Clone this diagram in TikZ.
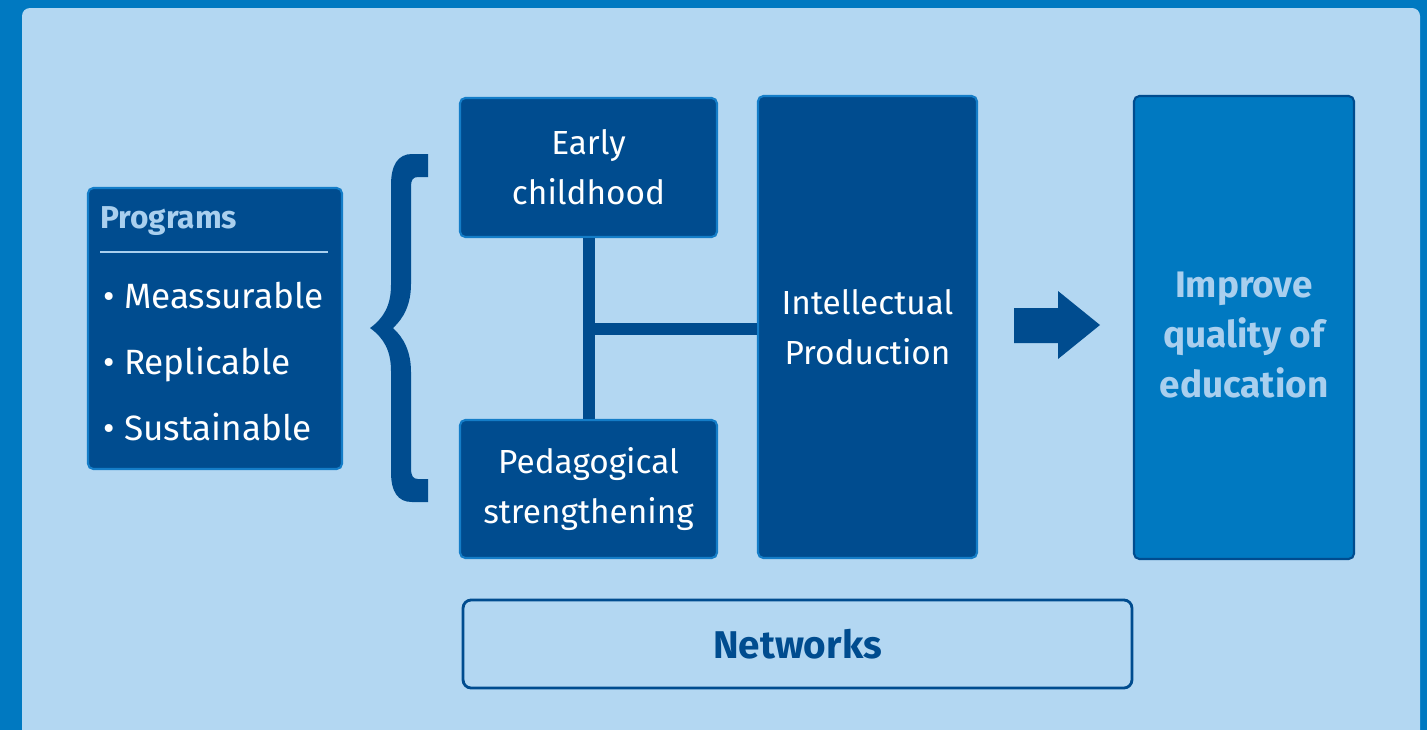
\documentclass[tikz,border=0pt]{standalone}
\usepackage{fontspec}
\setmainfont{Fira Sans}
\usepackage{xcolor}
\usepackage{tikz}

\definecolor{outerblue}{RGB}{0,121,193}
\definecolor{panelblue}{RGB}{179,215,242}
\definecolor{navy}{RGB}{0,76,143}
\definecolor{edgeblue}{RGB}{20,125,200}
\definecolor{paletext}{RGB}{169,207,238}

\begin{document}
\begin{tikzpicture}[x=0.02cm, y=-0.02cm,
    darkbox/.style={draw=edgeblue, line width=1.2pt, fill=navy, rounded corners=3pt, text=white, align=center, font=\fontsize{19}{28.5}\selectfont},
    link/.style={navy, line width=0.24cm},
    item/.style={anchor=base west, text=white, inner sep=0pt, font=\fontsize{20}{24}\selectfont}]
        \useasboundingbox (0,0) rectangle (1427,730);
        % Background and panel
        \fill[outerblue] (0,0) rectangle (1427,730);
        \fill[panelblue, rounded corners=0.16cm] (22,8) rectangle (1420,760);

        % Programs box
        \node[darkbox, minimum width=5.08cm, minimum height=5.62cm] (programs) at (215,328.5) {};
        \node[anchor=base west, inner sep=0pt, text=paletext, font=\fontsize{18}{20}\selectfont\bfseries] (title) at (100,228) {Programs};
        \draw[paletext, line width=1.2pt] (100,252) -- (328,252);
        \node[item] (meas) at (103,308) {\textbullet\ Meassurable};
        \node[item] (repl) at (103,374) {\textbullet\ Replicable};
        \node[item] (sust) at (103,440) {\textbullet\ Sustainable};

        % Brace
        \fill[navy] (428,154) -- (412,154) .. controls (398,154) and (391,165) .. (391,185) -- (391,285)
            .. controls (391,305) and (384,318) .. (370,328) .. controls (384,338) and (391,351) .. (391,371)
            -- (391,472) .. controls (391,492) and (398,502) .. (412,502) -- (428,502) -- (428,479) -- (418,479)
            .. controls (413,479) and (411,476) .. (411,468) -- (411,372) .. controls (411,352) and (404,338) .. (393,328)
            .. controls (404,318) and (411,304) .. (411,284) -- (411,186) .. controls (411,180) and (413,177) .. (418,177)
            -- (428,177) -- cycle;

        % Middle boxes
        \node[darkbox, minimum width=5.14cm, minimum height=2.78cm] (early) at (588.5,167.5) {Early\\childhood};
        \node[darkbox, minimum width=5.14cm, minimum height=2.76cm] (peda) at (588.5,489) {Pedagogical\\strengthening};
        \node[darkbox, minimum width=4.38cm, minimum height=9.24cm] (intel) at (867.5,327) {Intellectual\\Production};

        % Connectors
        \draw[link] (early.south) -- (peda.north) coordinate[midway] (mid);
        \draw[link] (mid) -- (mid -| intel.west);

        % Arrow and result
        \fill[navy] (1014,308) -- (1058,308) -- (1058,291) -- (1100,325) -- (1058,359) -- (1058,343) -- (1014,343) -- cycle;
        \node[darkbox, fill=outerblue, draw=navy, minimum width=4.40cm, minimum height=9.26cm] (improve) at (1244,327.5) {};
        \node[text=paletext, align=center, font=\fontsize{21}{28.5}\selectfont\bfseries] (goal) at (1244,335) {Improve\\quality of\\education};

        % Networks
        \node[draw=navy, line width=1.6pt, rounded corners=0.16cm, minimum width=13.38cm, minimum height=1.76cm,
            text=navy, font=\fontsize{22}{26}\selectfont\bfseries] (networks) at (797.5,644) {Networks};
    \end{tikzpicture}
\end{document}
